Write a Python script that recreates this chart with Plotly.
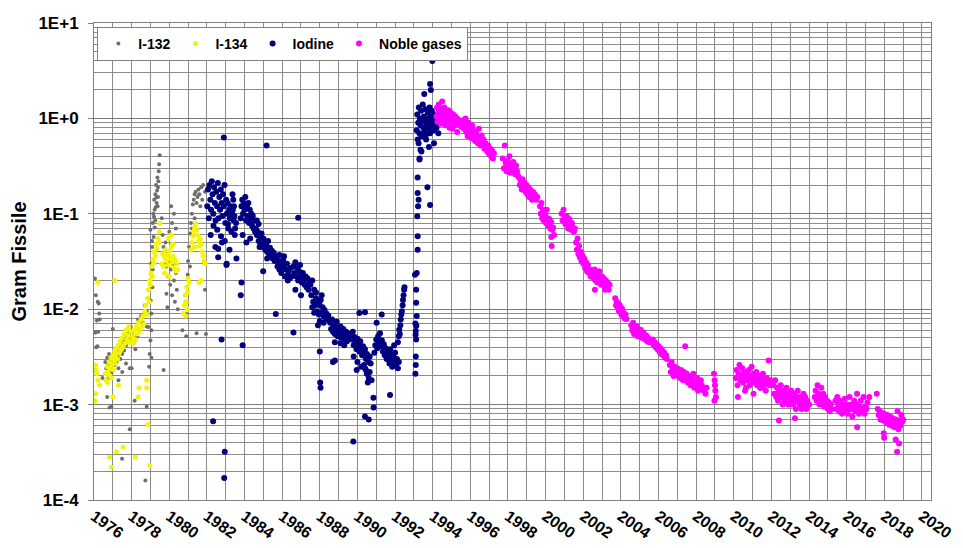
import plotly.graph_objects as go

# ---------------------------------------------------------------------------
# Measured activity expressed as gram fissile, per sample: (year, value)
# ---------------------------------------------------------------------------
I132 = [
    (1976.05, 0.021), (1976.10, 0.014), (1976.15, 0.0076), (1976.08, 0.0057), (1976.12, 0.004),
    (1976.06, 0.0023), (1976.04, 0.0013), (1976.20, 0.012), (1976.25, 0.0115), (1976.28, 0.009),
    (1976.30, 0.0078), (1976.22, 0.0058), (1976.18, 0.0041), (1976.30, 0.0016), (1976.45, 0.0019),
    (1976.70, 0.0012), (1976.93, 0.00095), (1976.83, 0.00093),
    (1976.60, 0.0028), (1976.65, 0.0024), (1976.70, 0.0031), (1976.75, 0.0027), (1976.80, 0.0034),
    (1976.85, 0.0025), (1976.90, 0.0030), (1976.95, 0.0022), (1977.00, 0.0029), (1977.05, 0.0033),
    (1977.10, 0.0026), (1977.15, 0.0036), (1977.20, 0.0028), (1977.25, 0.0032), (1977.30, 0.0024),
    (1977.35, 0.0038), (1977.40, 0.0030), (1977.45, 0.0041), (1977.50, 0.0034), (1977.55, 0.0045),
    (1977.60, 0.0037), (1977.65, 0.0048), (1977.70, 0.0042), (1977.75, 0.0052), (1977.80, 0.0046),
    (1977.85, 0.0058), (1977.90, 0.0050), (1977.95, 0.0065), (1978.00, 0.0056), (1977.00, 0.0062),
    (1976.75, 0.0019), (1977.30, 0.0018), (1977.50, 0.0022), (1977.70, 0.0027), (1977.90, 0.0024),
    (1978.00, 0.0024), (1978.16, 0.0011), (1977.90, 0.00055), (1977.49, 0.00027), (1978.73, 0.00016),
    (1978.80, 0.00095), (1978.34, 0.0078), (1978.80, 0.0066), (1979.05, 0.0031), (1979.70, 0.0023),
    (1979.05, 0.006), (1978.10, 0.0045), (1978.20, 0.0038), (1978.30, 0.0052), (1978.40, 0.006),
    (1978.50, 0.0085), (1978.60, 0.0072), (1978.70, 0.011), (1978.80, 0.0095),
    (1978.93, 0.0025), (1978.96, 0.0034), (1979.00, 0.0047), (1978.89, 0.0065), (1979.05, 0.009),
    (1979.01, 0.0123), (1979.10, 0.017), (1979.05, 0.023), (1979.14, 0.032), (1979.09, 0.045),
    (1979.17, 0.057), (1979.23, 0.072), (1979.19, 0.093), (1979.28, 0.117), (1979.32, 0.149),
    (1979.35, 0.175), (1979.40, 0.19), (1979.37, 0.24), (1979.44, 0.28), (1979.46, 0.33),
    (1979.49, 0.41), (1979.00, 0.068), (1979.08, 0.052), (1979.12, 0.08), (1979.20, 0.14),
    (1979.26, 0.16), (1979.30, 0.20), (1979.22, 0.11), (1979.15, 0.10), (1979.33, 0.13),
    (1979.40, 0.15), (1979.42, 0.22), (1979.25, 0.085), (1979.38, 0.12), (1979.03, 0.03),
    (1979.12, 0.026), (1979.20, 0.04),
    (1979.60, 0.09), (1979.65, 0.06), (1979.70, 0.045), (1979.75, 0.035), (1979.80, 0.05),
    (1979.85, 0.028), (1979.90, 0.04), (1979.95, 0.022), (1980.00, 0.032), (1980.05, 0.018),
    (1980.10, 0.026), (1980.15, 0.014), (1980.20, 0.03), (1980.25, 0.02), (1980.30, 0.012),
    (1980.35, 0.024), (1980.40, 0.016), (1979.85, 0.0145), (1979.90, 0.0105), (1980.45, 0.01),
    (1980.10, 0.12), (1980.25, 0.10), (1980.15, 0.08), (1980.35, 0.07), (1980.00, 0.065),
    (1980.90, 0.0089), (1980.87, 0.012), (1980.95, 0.017), (1980.98, 0.023), (1981.00, 0.032),
    (1981.05, 0.045), (1981.10, 0.062), (1981.15, 0.08), (1981.20, 0.10), (1981.25, 0.125),
    (1981.30, 0.14), (1981.35, 0.16), (1981.40, 0.17), (1981.45, 0.13), (1981.50, 0.15),
    (1981.55, 0.18), (1981.60, 0.16), (1981.70, 0.19), (1981.80, 0.20), (1981.90, 0.17),
    (1981.65, 0.12), (1981.75, 0.14), (1981.20, 0.07), (1981.35, 0.09), (1981.45, 0.0056),
    (1980.70, 0.006), (1980.90, 0.0052), (1981.90, 0.016), (1981.95, 0.0055), (1981.10, 0.028),
]

I134 = [
    (1976.05, 0.0011), (1976.10, 0.0013), (1976.15, 0.0021), (1976.08, 0.0026), (1976.12, 0.0023),
    (1976.20, 0.0018), (1976.30, 0.0016), (1977.10, 0.020), (1976.20, 0.019),
    (1976.60, 0.0021), (1976.65, 0.0018), (1976.70, 0.0025), (1976.72, 0.0017), (1976.75, 0.0022),
    (1976.80, 0.0028), (1976.82, 0.0020), (1976.85, 0.0024), (1976.90, 0.0031), (1976.93, 0.0019),
    (1976.95, 0.0026), (1977.00, 0.0033), (1977.03, 0.0023), (1977.05, 0.0029), (1977.10, 0.0036),
    (1977.12, 0.0027), (1977.15, 0.0032), (1977.20, 0.0039), (1977.25, 0.0030), (1977.30, 0.0042),
    (1977.35, 0.0035), (1977.40, 0.0046), (1977.45, 0.0038), (1977.50, 0.0050), (1977.55, 0.0041),
    (1977.60, 0.0055), (1977.65, 0.0044), (1977.70, 0.0060), (1977.75, 0.0048), (1977.80, 0.0052),
    (1977.85, 0.0065), (1977.90, 0.0045), (1977.95, 0.0058), (1978.00, 0.0047),
    (1978.05, 0.0052), (1978.10, 0.0044), (1978.15, 0.0060), (1978.20, 0.0048), (1978.25, 0.0066),
    (1978.30, 0.0055), (1978.35, 0.0072), (1978.40, 0.0058), (1978.45, 0.0062), (1978.50, 0.0078),
    (1978.55, 0.0065), (1978.60, 0.0085), (1978.65, 0.0070), (1978.70, 0.0095), (1978.75, 0.011),
    (1978.80, 0.0088), (1978.85, 0.013), (1978.90, 0.016), (1978.93, 0.012), (1978.96, 0.020),
    (1979.00, 0.018), (1979.03, 0.024), (1979.06, 0.028), (1979.10, 0.022), (1979.13, 0.033),
    (1979.17, 0.030), (1979.20, 0.040), (1979.25, 0.036), (1979.30, 0.048), (1979.35, 0.043),
    (1979.40, 0.055), (1979.45, 0.050), (1979.50, 0.079), (1979.48, 0.065),
    (1979.60, 0.030), (1979.65, 0.038), (1979.70, 0.028), (1979.75, 0.035), (1979.80, 0.042),
    (1979.85, 0.032), (1979.90, 0.037), (1979.95, 0.029), (1980.00, 0.040), (1980.05, 0.034),
    (1980.10, 0.045), (1980.15, 0.031), (1980.20, 0.036), (1980.25, 0.027), (1980.30, 0.033),
    (1980.35, 0.025), (1980.40, 0.030), (1980.45, 0.026), (1979.75, 0.024), (1980.00, 0.022),
    (1980.20, 0.048), (1979.95, 0.055), (1980.10, 0.060),
    (1980.75, 0.009), (1980.80, 0.011), (1980.85, 0.014), (1980.90, 0.012), (1980.93, 0.017),
    (1980.97, 0.015), (1981.00, 0.021), (1981.05, 0.019), (1980.88, 0.0085), (1980.95, 0.010),
    (1981.15, 0.042), (1981.20, 0.050), (1981.25, 0.058), (1981.30, 0.066), (1981.35, 0.072),
    (1981.40, 0.079), (1981.45, 0.068), (1981.50, 0.060), (1981.55, 0.052), (1981.60, 0.046),
    (1981.65, 0.055), (1981.70, 0.048), (1981.75, 0.040), (1981.80, 0.036), (1981.85, 0.032),
    (1981.90, 0.030), (1981.35, 0.045), (1981.60, 0.019), (1981.70, 0.020),
    (1976.93, 0.00022), (1977.54, 0.00036), (1978.20, 0.00028), (1978.96, 0.00023), (1978.87, 0.00062),
    (1978.80, 0.0015), (1978.80, 0.0018), (1978.40, 0.0015), (1978.34, 0.0012), (1977.19, 0.00032),
    (1976.83, 0.00028), (1977.00, 0.0012), (1977.30, 0.0016),
]

IODINE = [
    (1982.02, 0.12), (1982.06, 0.18), (1982.10, 0.09), (1982.14, 0.20), (1982.18, 0.14),
    (1982.22, 0.11), (1982.26, 0.22), (1982.30, 0.16), (1982.34, 0.10), (1982.38, 0.19),
    (1982.42, 0.13), (1982.46, 0.085), (1982.50, 0.17), (1982.54, 0.12), (1982.58, 0.21),
    (1982.62, 0.09), (1982.66, 0.15), (1982.70, 0.11), (1982.74, 0.18), (1982.78, 0.13),
    (1982.82, 0.095), (1982.86, 0.16), (1982.90, 0.12), (1982.94, 0.20), (1982.98, 0.08),
    (1983.02, 0.14), (1983.06, 0.10), (1983.10, 0.13), (1983.14, 0.07), (1983.18, 0.11),
    (1983.22, 0.09), (1983.26, 0.12), (1983.30, 0.065), (1983.34, 0.10), (1982.20, 0.06),
    (1982.45, 0.045), (1982.60, 0.035), (1982.80, 0.05), (1983.05, 0.03), (1983.20, 0.042),
    (1982.35, 0.075), (1982.55, 0.068), (1982.75, 0.058), (1982.95, 0.052), (1983.12, 0.078),
    (1983.38, 0.11), (1983.42, 0.085), (1983.46, 0.095), (1983.50, 0.07), (1983.55, 0.08),
    (1983.48, 0.06), (1983.40, 0.14), (1983.36, 0.16), (1983.44, 0.12),
    (1982.60, 0.043), (1983.04, 0.029), (1983.57, 0.034),
    (1982.90, 0.63), (1982.33, 0.00067), (1982.95, 0.00032), (1982.92, 0.00017), (1982.78, 0.0048),
    (1983.80, 0.09), (1983.84, 0.12), (1983.88, 0.14), (1983.92, 0.10), (1983.96, 0.13),
    (1984.00, 0.11), (1984.04, 0.15), (1984.08, 0.085), (1984.12, 0.12), (1984.16, 0.095),
    (1984.20, 0.13), (1984.24, 0.08), (1984.28, 0.11), (1984.32, 0.09), (1984.36, 0.10),
    (1984.40, 0.075), (1984.44, 0.095), (1984.48, 0.07), (1984.52, 0.085), (1984.56, 0.065),
    (1983.90, 0.06), (1984.10, 0.05), (1984.30, 0.055),
    (1983.84, 0.019), (1983.80, 0.014), (1983.90, 0.0042),
    (1984.60, 0.07), (1984.65, 0.06), (1984.70, 0.065), (1984.75, 0.052), (1984.80, 0.058),
    (1984.85, 0.048), (1984.90, 0.062), (1984.95, 0.045), (1985.00, 0.055), (1985.05, 0.05),
    (1985.10, 0.042), (1985.15, 0.047), (1985.20, 0.04), (1985.25, 0.052), (1985.30, 0.038),
    (1985.35, 0.044), (1985.40, 0.036), (1985.45, 0.041), (1985.50, 0.034), (1985.55, 0.039),
    (1985.60, 0.032), (1985.65, 0.036), (1984.80, 0.045), (1985.20, 0.034), (1984.65, 0.085),
    (1984.75, 0.078),
    (1984.99, 0.025), (1985.66, 0.0089), (1985.17, 0.52),
    (1985.70, 0.035), (1985.75, 0.028), (1985.80, 0.032), (1985.85, 0.026), (1985.90, 0.030),
    (1985.95, 0.024), (1986.00, 0.029), (1986.05, 0.033), (1986.10, 0.027), (1986.15, 0.022),
    (1986.20, 0.026), (1986.25, 0.030), (1986.30, 0.023), (1986.35, 0.025), (1986.40, 0.021),
    (1986.45, 0.027), (1986.50, 0.022), (1985.85, 0.037), (1986.10, 0.036), (1986.30, 0.020),
    (1986.60, 0.0057), (1986.85, 0.091),
    (1986.60, 0.028), (1986.65, 0.024), (1986.70, 0.031), (1986.75, 0.022), (1986.80, 0.027),
    (1986.85, 0.020), (1986.90, 0.025), (1986.95, 0.029), (1987.00, 0.022), (1987.05, 0.019),
    (1987.10, 0.024), (1987.15, 0.020), (1987.20, 0.018), (1987.25, 0.022), (1987.30, 0.017),
    (1987.35, 0.021), (1987.40, 0.016), (1987.45, 0.019), (1986.70, 0.016), (1987.00, 0.014),
    (1987.50, 0.018), (1987.55, 0.014), (1987.60, 0.020), (1987.65, 0.012), (1987.70, 0.016),
    (1987.75, 0.011), (1987.80, 0.013), (1987.85, 0.0095), (1987.90, 0.012), (1987.95, 0.0088),
    (1988.00, 0.011), (1988.05, 0.0125), (1988.10, 0.0092), (1988.15, 0.0105), (1988.20, 0.0085),
    (1988.25, 0.0098), (1988.30, 0.0082), (1988.35, 0.009), (1988.40, 0.0078), (1988.45, 0.0086),
    (1987.60, 0.0105), (1987.80, 0.015), (1988.00, 0.0075), (1988.20, 0.0072), (1987.70, 0.0092),
    (1987.90, 0.0068), (1988.10, 0.014),
    (1988.00, 0.0036), (1988.02, 0.0017), (1988.04, 0.0015), (1988.70, 0.0028), (1988.80, 0.0029),
    (1988.55, 0.0072), (1988.60, 0.0062), (1988.65, 0.0078), (1988.70, 0.0058), (1988.75, 0.0068),
    (1988.80, 0.0055), (1988.85, 0.0065), (1988.90, 0.0074), (1988.95, 0.0052), (1989.00, 0.006),
    (1989.05, 0.0057), (1989.10, 0.0066), (1989.15, 0.005), (1989.20, 0.0056), (1989.25, 0.0062),
    (1989.30, 0.0048), (1989.35, 0.0054), (1989.40, 0.0058), (1989.45, 0.0046), (1989.50, 0.0052),
    (1989.55, 0.0049), (1989.60, 0.0055), (1988.80, 0.0045), (1989.10, 0.0044), (1989.30, 0.0042),
    (1989.65, 0.0055), (1989.70, 0.0048), (1989.75, 0.0058), (1989.80, 0.0042), (1989.85, 0.0051),
    (1989.90, 0.0045), (1989.95, 0.0038), (1990.00, 0.0049), (1990.05, 0.0043), (1990.10, 0.0036),
    (1990.15, 0.0046), (1990.20, 0.004), (1990.25, 0.0033), (1990.30, 0.0041), (1990.35, 0.0035),
    (1990.40, 0.0038), (1990.45, 0.003), (1990.50, 0.0034), (1990.55, 0.0031), (1990.60, 0.0028),
    (1990.65, 0.0032), (1990.70, 0.0027), (1989.80, 0.0032), (1990.00, 0.0028), (1990.20, 0.0025),
    (1990.40, 0.0024), (1990.50, 0.0021), (1990.60, 0.0019), (1990.35, 0.0026), (1990.45, 0.0023),
    (1990.55, 0.0017), (1990.65, 0.0022), (1990.75, 0.0018), (1990.85, 0.00118), (1990.86, 0.00093),
    (1989.78, 0.00041), (1990.40, 0.00075), (1990.60, 0.0007), (1990.10, 0.0091), (1990.40, 0.0093),
    (1989.96, 0.0023),
    (1990.90, 0.0035), (1990.95, 0.0042), (1991.00, 0.0048), (1991.05, 0.0039), (1991.10, 0.0052),
    (1991.15, 0.0045), (1991.20, 0.0056), (1991.25, 0.0041), (1991.30, 0.0047), (1991.35, 0.0036),
    (1991.40, 0.0043), (1991.45, 0.0033), (1991.50, 0.0039), (1991.55, 0.003), (1991.60, 0.0035),
    (1991.02, 0.0072), (1991.29, 0.0088),
    (1991.65, 0.0031), (1991.70, 0.0027), (1991.75, 0.0034), (1991.80, 0.0029), (1991.85, 0.0025),
    (1991.90, 0.0032), (1991.95, 0.0028), (1992.00, 0.0035), (1992.05, 0.0026), (1992.10, 0.003),
    (1992.15, 0.0024), (1992.20, 0.0028), (1991.75, 0.0038), (1991.95, 0.0042), (1991.73, 0.00126),
    (1992.15, 0.0045), (1992.20, 0.0052), (1992.22, 0.0061), (1992.25, 0.0055), (1992.28, 0.0068),
    (1992.30, 0.0078), (1992.33, 0.0088), (1992.36, 0.0095), (1992.40, 0.011), (1992.42, 0.0125),
    (1992.45, 0.014), (1992.48, 0.016), (1992.50, 0.017),
    (1993.08, 0.0021), (1993.10, 0.0032), (1993.12, 0.0048), (1993.10, 0.0059), (1993.13, 0.0067),
    (1993.12, 0.0117), (1993.15, 0.024), (1993.20, 0.042), (1993.20, 0.058), (1993.18, 0.094),
    (1993.22, 0.12), (1993.25, 0.14), (1993.20, 0.165), (1993.72, 0.19), (1993.86, 0.124),
    (1993.20, 0.24), (1993.30, 0.37), (1993.35, 0.47), (1993.25, 0.55), (1993.65, 0.60),
    (1993.80, 0.50), (1993.10, 0.0026), (1993.15, 0.0085), (1993.12, 0.016), (1993.06, 0.023),
    (1993.08, 0.0071), (1993.09, 0.0054),
    (1993.15, 0.75), (1993.18, 1.10), (1993.20, 0.60), (1993.23, 0.90), (1993.26, 1.30),
    (1993.29, 0.70), (1993.32, 1.00), (1993.35, 0.85), (1993.38, 1.20), (1993.41, 0.65),
    (1993.44, 0.95), (1993.47, 1.40), (1993.50, 0.80), (1993.53, 1.05), (1993.56, 0.72),
    (1993.59, 0.92), (1993.62, 1.25), (1993.65, 0.68), (1993.68, 1.00), (1993.71, 0.85),
    (1993.74, 1.15), (1993.77, 0.78), (1993.80, 0.95), (1993.83, 1.30), (1993.86, 0.70),
    (1993.89, 1.05), (1993.92, 0.88), (1993.95, 1.20), (1993.98, 0.82), (1994.01, 1.00),
    (1994.04, 0.90), (1994.07, 0.75), (1994.10, 1.10), (1994.13, 0.85), (1994.16, 0.95),
    (1994.20, 0.80), (1994.25, 0.90), (1994.30, 0.70), (1993.86, 2.30), (1993.90, 1.98),
    (1993.98, 4.00), (1993.55, 1.80), (1993.40, 0.45), (1993.30, 0.38), (1994.07, 0.55),
]

NOBLE_GASES = [
    (1994.20, 1.05), (1994.23, 1.30), (1994.26, 0.92), (1994.29, 1.15), (1994.32, 1.40),
    (1994.35, 0.98), (1994.38, 1.20), (1994.41, 1.08), (1994.44, 0.88), (1994.47, 1.25),
    (1994.50, 1.50), (1994.53, 1.02), (1994.56, 1.12), (1994.59, 0.95), (1994.62, 1.30),
    (1994.65, 1.05), (1994.68, 0.85), (1994.71, 1.18), (1994.74, 1.00), (1994.77, 1.10),
    (1994.80, 0.90), (1994.83, 1.22), (1994.86, 0.97), (1994.89, 0.80), (1994.92, 1.08),
    (1994.95, 1.15), (1994.98, 0.92), (1995.01, 1.02), (1995.05, 0.78), (1995.09, 1.10),
    (1995.13, 0.95), (1995.17, 0.85), (1995.21, 1.05), (1995.25, 0.88), (1995.30, 0.72),
    (1995.35, 0.98), (1995.42, 0.90), (1995.50, 0.82),
    (1995.60, 0.95), (1995.65, 0.78), (1995.70, 0.88), (1995.74, 1.00), (1995.78, 0.72),
    (1995.82, 0.85), (1995.86, 0.65), (1995.90, 0.90), (1995.94, 0.80), (1995.98, 0.70),
    (1996.02, 0.76), (1996.06, 0.62), (1996.10, 0.84), (1996.15, 0.68), (1996.20, 0.74),
    (1996.25, 0.58), (1996.30, 0.70), (1996.35, 0.64), (1996.40, 0.55), (1996.45, 0.78),
    (1996.50, 0.60), (1996.55, 0.52), (1996.60, 0.66), (1996.65, 0.56), (1996.70, 0.60),
    (1996.75, 0.48), (1996.80, 0.55), (1996.85, 0.50), (1996.90, 0.45), (1996.95, 0.52),
    (1997.00, 0.42), (1997.05, 0.48), (1997.10, 0.40), (1997.15, 0.46), (1997.20, 0.38),
    (1997.25, 0.43),
    (1997.72, 0.38), (1997.78, 0.30), (1997.83, 0.52), (1997.88, 0.34), (1997.93, 0.28),
    (1997.98, 0.36), (1998.03, 0.31), (1998.08, 0.40), (1998.13, 0.27), (1998.18, 0.33),
    (1998.23, 0.29), (1998.28, 0.35), (1998.33, 0.30), (1998.38, 0.26), (1998.43, 0.32),
    (1998.48, 0.28), (1998.53, 0.25),
    (1998.58, 0.24), (1998.63, 0.20), (1998.68, 0.22), (1998.73, 0.18), (1998.78, 0.23),
    (1998.83, 0.19), (1998.88, 0.21), (1998.93, 0.17), (1998.98, 0.20), (1999.03, 0.16),
    (1999.08, 0.19), (1999.13, 0.15), (1999.18, 0.18), (1999.23, 0.16), (1999.28, 0.14),
    (1999.33, 0.17), (1999.38, 0.15), (1999.43, 0.16), (1999.50, 0.14), (1999.56, 0.15),
    (1999.70, 0.12), (1999.74, 0.10), (1999.78, 0.13), (1999.82, 0.09), (1999.86, 0.11),
    (1999.90, 0.085), (1999.94, 0.10), (1999.98, 0.095), (2000.02, 0.08), (2000.06, 0.11),
    (2000.10, 0.09), (2000.15, 0.075), (2000.20, 0.088), (2000.25, 0.07), (2000.30, 0.082),
    (2000.35, 0.068), (2000.40, 0.072), (2000.30, 0.057), (2000.32, 0.046), (2000.45, 0.06),
    (2000.85, 0.10), (2000.90, 0.085), (2000.95, 0.11), (2001.00, 0.09), (2001.05, 0.078),
    (2001.10, 0.095), (2001.15, 0.082), (2001.20, 0.07), (2001.25, 0.088), (2001.30, 0.075),
    (2001.35, 0.068), (2001.40, 0.08), (2001.45, 0.072), (2001.50, 0.065), (2001.55, 0.07),
    (2001.62, 0.05), (2001.66, 0.042), (2001.70, 0.055), (2001.74, 0.038), (2001.78, 0.046),
    (2001.82, 0.035), (2001.86, 0.04), (2001.90, 0.032), (2001.95, 0.037), (2002.00, 0.03),
    (2002.05, 0.034), (2002.10, 0.027), (2002.15, 0.031), (2002.20, 0.025), (2002.25, 0.029),
    (2002.30, 0.024), (2002.35, 0.026), (2002.40, 0.022), (2002.45, 0.025),
    (2002.50, 0.024), (2002.55, 0.021), (2002.60, 0.026), (2002.65, 0.020), (2002.70, 0.023),
    (2002.75, 0.019), (2002.80, 0.022), (2002.85, 0.025), (2002.90, 0.020), (2002.95, 0.018),
    (2003.00, 0.022), (2003.05, 0.019), (2003.10, 0.021), (2003.15, 0.017), (2003.20, 0.020),
    (2003.25, 0.018), (2003.30, 0.019), (2003.35, 0.016), (2003.40, 0.018), (2002.62, 0.016),
    (2003.16, 0.016),
    (2003.70, 0.013), (2003.74, 0.011), (2003.78, 0.012), (2003.82, 0.0105), (2003.86, 0.0115),
    (2003.90, 0.0095), (2003.94, 0.011), (2003.98, 0.0098), (2004.02, 0.0088), (2004.06, 0.0102),
    (2004.10, 0.0085), (2004.15, 0.0092), (2004.20, 0.008), (2004.25, 0.0088), (2004.30, 0.0079),
    (2004.55, 0.0068), (2004.60, 0.006), (2004.65, 0.0072), (2004.70, 0.0055), (2004.75, 0.0063),
    (2004.80, 0.0058), (2004.85, 0.0066), (2004.90, 0.0052), (2004.95, 0.0059), (2005.00, 0.0054),
    (2005.05, 0.0061), (2005.10, 0.0056), (2005.15, 0.005), (2005.20, 0.0057), (2005.25, 0.0051),
    (2005.30, 0.0048), (2005.35, 0.0053), (2005.40, 0.0046), (2005.45, 0.005), (2005.50, 0.0045),
    (2005.70, 0.0048), (2005.75, 0.0042), (2005.80, 0.0045), (2005.85, 0.004), (2005.90, 0.0043),
    (2005.95, 0.0038), (2006.00, 0.0041), (2006.05, 0.0036), (2006.10, 0.0039), (2006.15, 0.0034),
    (2006.20, 0.0037), (2006.25, 0.0033), (2006.30, 0.0035), (2006.35, 0.0031), (2006.40, 0.0033),
    (2006.45, 0.003), (2007.42, 0.0041),
    (2006.60, 0.0026), (2006.65, 0.0022), (2006.70, 0.0028), (2006.75, 0.0024), (2006.80, 0.002),
    (2006.85, 0.0025), (2006.90, 0.0023), (2006.95, 0.0021), (2007.00, 0.0024), (2007.05, 0.002),
    (2007.10, 0.0022), (2007.15, 0.0019), (2007.20, 0.0023), (2007.25, 0.0021), (2007.30, 0.0018),
    (2007.35, 0.0022), (2007.40, 0.002), (2007.45, 0.0019), (2007.50, 0.0021), (2007.55, 0.0017),
    (2007.60, 0.002), (2007.65, 0.0018), (2007.70, 0.0016), (2007.75, 0.0019), (2007.80, 0.0017),
    (2007.85, 0.0021), (2007.90, 0.0015), (2007.95, 0.0018), (2008.00, 0.0016), (2008.05, 0.0019),
    (2008.10, 0.0014), (2008.15, 0.0017), (2008.20, 0.0015), (2008.25, 0.0018), (2008.30, 0.0016),
    (2008.40, 0.0014), (2008.50, 0.0013), (2008.55, 0.0015),
    (2008.95, 0.0021), (2008.98, 0.0018), (2009.00, 0.0016), (2009.02, 0.0014), (2009.05, 0.0012),
    (2008.97, 0.0011),
    (2010.10, 0.0019), (2010.15, 0.0023), (2010.20, 0.0016), (2010.25, 0.0021), (2010.30, 0.0026),
    (2010.35, 0.0018), (2010.40, 0.002), (2010.45, 0.0024), (2010.50, 0.0017), (2010.55, 0.0022),
    (2010.60, 0.0019), (2010.65, 0.0015), (2010.70, 0.0021), (2010.75, 0.0018), (2010.80, 0.0023),
    (2010.85, 0.0016), (2010.90, 0.002), (2010.95, 0.0025), (2011.00, 0.0018), (2011.05, 0.0021),
    (2011.10, 0.0017), (2011.15, 0.0019), (2011.20, 0.0022), (2011.25, 0.0016), (2011.30, 0.0018),
    (2011.35, 0.002), (2011.40, 0.0015), (2011.45, 0.0019), (2011.50, 0.0017), (2011.55, 0.0021),
    (2011.60, 0.0016), (2011.65, 0.0018), (2011.70, 0.0014), (2011.75, 0.0019), (2011.80, 0.0017),
    (2011.85, 0.0029), (2011.90, 0.0016), (2011.95, 0.0018), (2010.22, 0.0012), (2010.60, 0.0014),
    (2011.05, 0.0013), (2011.45, 0.0015),
    (2012.10, 0.0016), (2012.15, 0.0013), (2012.20, 0.0018), (2012.25, 0.0012), (2012.30, 0.0015),
    (2012.35, 0.0011), (2012.40, 0.0014), (2012.45, 0.0013), (2012.50, 0.0016), (2012.55, 0.0012),
    (2012.60, 0.0010), (2012.65, 0.0014), (2012.70, 0.0011), (2012.75, 0.0013), (2012.80, 0.0015),
    (2012.85, 0.0012), (2012.90, 0.0010), (2012.95, 0.0013), (2013.00, 0.0011), (2013.05, 0.0014),
    (2013.10, 0.0012), (2013.15, 0.0010), (2013.20, 0.0013), (2013.25, 0.0011), (2013.30, 0.0009),
    (2013.35, 0.0012), (2013.40, 0.0014), (2013.45, 0.0011), (2013.50, 0.0010), (2013.55, 0.0012),
    (2013.60, 0.0009), (2013.65, 0.0011), (2013.70, 0.0013), (2013.75, 0.0010), (2013.80, 0.0012),
    (2013.85, 0.0009), (2013.90, 0.0011), (2014.00, 0.0010), (2012.40, 0.00068), (2013.25, 0.00072),
    (2014.30, 0.0012), (2014.35, 0.0014), (2014.40, 0.0011), (2014.45, 0.0016), (2014.50, 0.0013),
    (2014.55, 0.0010), (2014.60, 0.0012), (2014.65, 0.0015), (2014.70, 0.0011), (2014.75, 0.0013),
    (2014.80, 0.00095), (2014.85, 0.0012), (2014.90, 0.0010), (2014.95, 0.0011), (2015.00, 0.0009),
    (2015.05, 0.00105), (2015.10, 0.00085), (2015.15, 0.0010), (2015.20, 0.0009),
    (2015.40, 0.0011), (2015.45, 0.0009), (2015.50, 0.0012), (2015.55, 0.0010), (2015.60, 0.00085),
    (2015.65, 0.0011), (2015.70, 0.00095), (2015.75, 0.0008), (2015.80, 0.0010), (2015.85, 0.0009),
    (2015.90, 0.00115), (2015.95, 0.00085), (2016.00, 0.0010), (2016.05, 0.0008), (2016.10, 0.00095),
    (2016.15, 0.0012), (2016.20, 0.0009), (2016.25, 0.0010), (2016.30, 0.00075), (2016.35, 0.0009),
    (2016.40, 0.0011), (2016.45, 0.00085), (2016.50, 0.0010), (2016.55, 0.0013), (2016.60, 0.0009),
    (2016.65, 0.0008), (2016.70, 0.00095), (2016.75, 0.0011), (2016.80, 0.00085), (2016.85, 0.0009),
    (2016.90, 0.0012), (2016.95, 0.0008), (2017.00, 0.00095), (2017.05, 0.0009), (2017.10, 0.00105),
    (2017.20, 0.0012), (2016.56, 0.00058), (2017.60, 0.0013),
    (2017.65, 0.0009), (2017.70, 0.00078), (2017.75, 0.00085), (2017.80, 0.0007), (2017.85, 0.00082),
    (2017.90, 0.00075), (2017.95, 0.00068), (2018.00, 0.0008), (2018.05, 0.00072), (2018.10, 0.00065),
    (2018.15, 0.00078), (2018.20, 0.0007), (2018.25, 0.00062), (2018.30, 0.00075), (2018.35, 0.00068),
    (2018.40, 0.0006), (2018.45, 0.00072), (2018.50, 0.00065), (2018.55, 0.00058), (2018.60, 0.0007),
    (2018.65, 0.00062), (2018.70, 0.00085), (2018.75, 0.00055), (2018.80, 0.00068), (2018.85, 0.0006),
    (2018.90, 0.00078), (2018.95, 0.00066), (2019.00, 0.0007),
    (2017.97, 0.0005), (2017.99, 0.00045), (2018.60, 0.00043), (2018.78, 0.00039), (2018.68, 0.00032),
]

X_TICK_YEARS = [1976, 1978, 1980, 1982, 1984, 1986, 1988, 1990, 1992, 1994, 1996, 1998,
                2000, 2002, 2004, 2006, 2008, 2010, 2012, 2014, 2016, 2018, 2020]
X_TICK_LABELS = ["1976", "1978", "1980", "1982", "1984", "1986", "1988", "1990", "1992",
                 "1994", "1996", "1998", "2000", "2002", "2004", "2006", "2008", "2010",
                 "2012", "2014", "2016", "2018", "2020"]
Y_TICK_VALUES = [1e-4, 1e-3, 1e-2, 1e-1, 1, 10]
Y_TICK_LABELS = ["1E-4", "1E-3", "1E-2", "1E-1", "1E+0", "1E+1"]

FONT = "Arial, 'Liberation Sans', sans-serif"
GRID = "#8c8c8c"

SERIES = [
    ("I-132", I132, "#6e6e6e", 4),
    ("I-134", I134, "#f4f400", 5),
    ("Iodine", IODINE, "#000080", 6),
    ("Noble gases", NOBLE_GASES, "#ff00ff", 6),
]

fig = go.Figure()
for name, points, color, size in SERIES:
    fig.add_trace(go.Scatter(
        x=[p[0] for p in points],
        y=[p[1] for p in points],
        mode="markers",
        name=name,
        marker=dict(color=color, size=size, line=dict(width=0)),
    ))

fig.update_layout(
    width=963,
    height=548,
    margin=dict(l=94, r=32, t=23, b=48),
    paper_bgcolor="white",
    plot_bgcolor="white",
    font=dict(family=FONT, color="black", size=13),
    showlegend=True,
    legend=dict(
        orientation="h",
        x=0.004, y=0.992, xanchor="left", yanchor="top",
        bgcolor="white",
        bordercolor="#808080",
        borderwidth=1,
        font=dict(family=FONT, size=14, weight="bold", color="black"),
        itemwidth=30,
        tracegroupgap=0,
    ),
    xaxis=dict(
        range=[1976, 2020.48],
        automargin=False,
        tickmode="array",
        tickvals=X_TICK_YEARS,
        ticktext=X_TICK_LABELS,
        tickangle=35,
        tickfont=dict(family=FONT, size=16, weight="bold", color="black"),
        showgrid=True,
        gridcolor=GRID,
        gridwidth=1,
        minor=dict(tickmode="linear", tick0=1976, dtick=1, showgrid=True,
                   gridcolor=GRID, gridwidth=1),
        showline=True,
        linecolor="#808080",
        linewidth=1,
        mirror=True,
        ticks="",
        zeroline=False,
    ),
    yaxis=dict(
        type="log",
        range=[-4, 1],
        automargin=False,
        tickmode="array",
        tickvals=Y_TICK_VALUES,
        ticktext=Y_TICK_LABELS,
        tickfont=dict(family=FONT, size=17, weight="bold", color="black"),
        ticks="outside",
        ticklen=5,
        tickcolor="#808080",
        ticklabelstandoff=6,
        showgrid=True,
        gridcolor="#7a7a7a",
        gridwidth=1,
        minor=dict(dtick="D1", showgrid=True, gridcolor=GRID, gridwidth=1),
        showline=True,
        linecolor="#808080",
        linewidth=1,
        mirror=True,
        zeroline=False,
        title=dict(text="Gram Fissile",
                   font=dict(family=FONT, size=20, weight="bold", color="black"),
                   standoff=6),
    ),
)

fig.write_html("out.html")
